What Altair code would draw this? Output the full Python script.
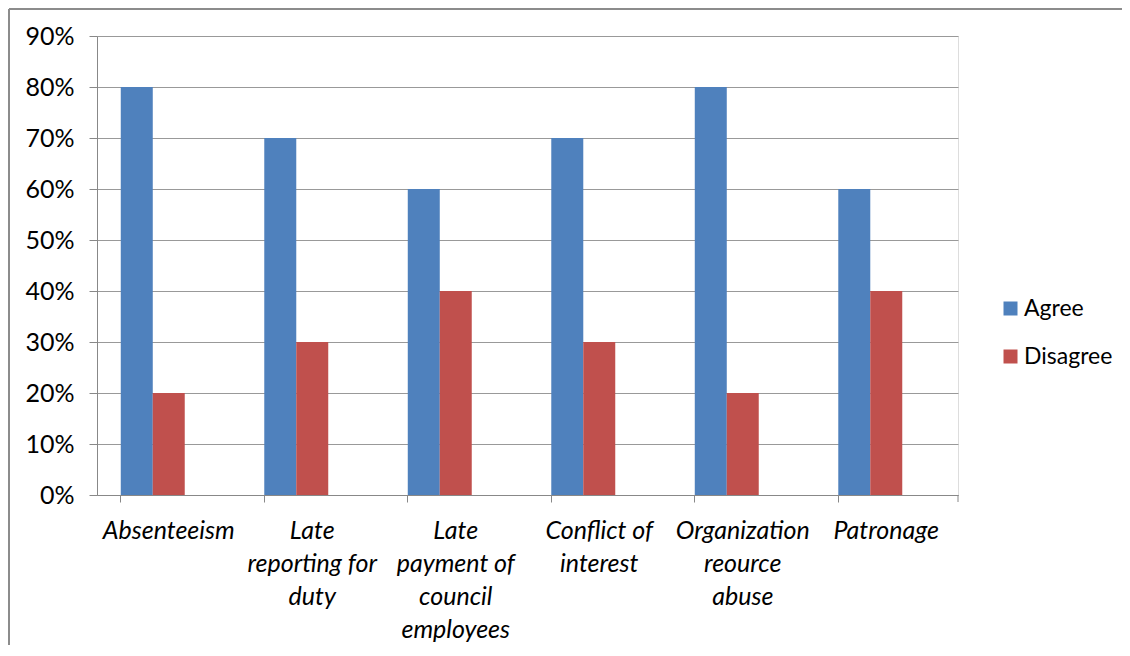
import altair as alt
import pandas as pd

categories = ["Absenteeism", "Late reporting for duty", "Late payment of council employees",
              "Conflict of interest", "Organization reource abuse", "Patronage"]
label_lines = [["Absenteeism"], ["Late", "reporting for", "duty"],
               ["Late", "payment of", "council", "employees"],
               ["Conflict of", "interest"], ["Organization", "reource", "abuse"], ["Patronage"]]
agree = [0.80, 0.70, 0.60, 0.70, 0.80, 0.60]
disagree = [0.20, 0.30, 0.40, 0.30, 0.20, 0.40]
series = ["Agree", "Disagree"]
colors = ["#4F81BD", "#C0504D"]
y_ticks = [0, 0.1, 0.2, 0.3, 0.4, 0.5, 0.6, 0.7, 0.8, 0.9]

rows = []
for c, a, d in zip(categories, agree, disagree):
    rows.append({"cat": c, "series": "Agree", "value": a})
    rows.append({"cat": c, "series": "Disagree", "value": d})
df = pd.DataFrame(rows)

mapping = "{" + ",".join(
    "'" + c + "':[" + ",".join("'" + l + "'" for l in ls) + "]"
    for c, ls in zip(categories, label_lines)) + "}"

FONT = "Lato"
FS = 25
W, H = 861, 459

bars = alt.Chart(df).mark_bar(size=32).encode(
    x=alt.X("cat:N", sort=categories, title=None,
            scale=alt.Scale(paddingInner=0.3315, paddingOuter=0.1657),
            axis=alt.Axis(labelAngle=0, bandPosition=0, labelExpr=mapping + "[datum.value]",
                          labelFontStyle="italic", labelFont=FONT, labelFontSize=FS,
                          labelColor="#000", labelLineHeight=33, labelPadding=16,
                          labelBaseline="top", labelLimit=200,
                          domainColor="#888", tickColor="#888", tickSize=7, grid=False)),
    xOffset=alt.XOffset("series:N", scale=alt.Scale(domain=["Agree", "Disagree", "None"],
                                                    paddingInner=0, paddingOuter=0)),
    y=alt.Y("value:Q", title=None,
            scale=alt.Scale(domain=[0, 0.9], nice=False),
            axis=alt.Axis(values=y_ticks, format=".0%", labelFont=FONT, labelFontSize=FS,
                          labelColor="#000", labelPadding=15, tickSize=8, tickColor="#888",
                          domainColor="#888", gridColor="#999", grid=True)),
    color=alt.Color("series:N", scale=alt.Scale(domain=series, range=colors), title=None,
                    legend=alt.Legend(orient="none", legendX=902, legendY=261,
                                      symbolType="square", symbolSize=196, symbolStrokeWidth=0,
                                      labelFont=FONT, labelFontSize=23, labelColor="#000",
                                      rowPadding=24, labelOffset=2)),
)

end_tick = alt.Chart(pd.DataFrame({"a": [0]})).mark_rule(color="#888").encode(
    x=alt.value(W), y=alt.value(H), y2=alt.value(H + 7))
frame_top = alt.Chart(pd.DataFrame({"a": [0]})).mark_rule(color="#8c8c8c", strokeWidth=2).encode(
    x=alt.value(-88), x2=alt.value(W + 170), y=alt.value(-27))
frame_left = alt.Chart(pd.DataFrame({"a": [0]})).mark_rule(color="#8c8c8c", strokeWidth=2).encode(
    x=alt.value(-88), y=alt.value(-27), y2=alt.value(H + 200))

chart = alt.layer(bars, end_tick, frame_top, frame_left).properties(
    width=W, height=H,
    autosize=alt.AutoSizeParams(type="none"),
    padding={"left": 89, "top": 28, "right": 164, "bottom": 150},
).configure_view(stroke=None).configure(background="white")

chart.save("out.html", embed_options={"renderer": "svg", "actions": False})
